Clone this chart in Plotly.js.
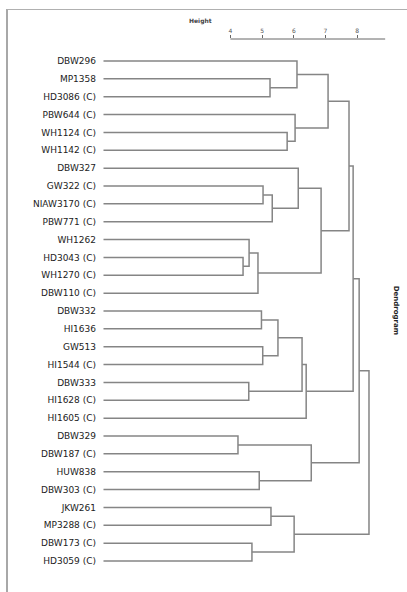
<!DOCTYPE html>
<html>
<head>
<meta charset="utf-8">
<script src="https://cdn.plot.ly/plotly-3.0.1.min.js"></script>
<style>
  html, body { margin: 0; padding: 0; background: #fff; }
  #wrap { position: relative; width: 407px; height: 592px; overflow: hidden; }
  #frame { position: absolute; left: 6px; top: 9px; width: 420px; height: 600px;
           border-left: 2px solid #a8a8a8; border-top: 1px solid #b0b0b0; }
  #plot { position: absolute; left: 0; top: 0; width: 407px; height: 592px; }
</style>
</head>
<body>
<div id="wrap">
  <div id="frame"></div>
  <div id="plot"></div>
</div>
<script>
// Genotypes, top to bottom
const leaves = [
  "DBW296", "MP1358", "HD3086 (C)", "PBW644 (C)", "WH1124 (C)", "WH1142 (C)",
  "DBW327", "GW322 (C)", "NIAW3170 (C)", "PBW771 (C)", "WH1262", "HD3043 (C)",
  "WH1270 (C)", "DBW110 (C)", "DBW332", "HI1636", "GW513", "HI1544 (C)",
  "DBW333", "HI1628 (C)", "HI1605 (C)", "DBW329", "DBW187 (C)", "HUW838",
  "DBW303 (C)", "JKW261", "MP3288 (C)", "DBW173 (C)", "HD3059 (C)"
];

// Merge table (hclust convention): negative = leaf number (1-based), positive = earlier row
const mergeLeft  = [-22, -12, -11, -19, -28,  3, -24, -15, -17, -8, -2, -26, 10,  8, -5, 12, -4, -1, -7, 14,  20,  1, 19, 18, 24, 25, 26, 27];
const mergeRight = [-23, -13,   2, -20, -29, -14, -25, -16, -18, -9, -3, -27, -10,  9, -6,  5, 15, 11, 13,  4, -21,  7,  6, 17, 23, 21, 22, 16];
const mergeHeight = [4.24, 4.40, 4.59, 4.58, 4.68, 4.87, 4.91, 4.98, 5.02, 5.03, 5.25, 5.28, 5.32, 5.50,
                     5.79, 6.01, 6.04, 6.10, 6.14, 6.26, 6.39, 6.55, 6.86, 7.08, 7.74, 7.87, 8.06, 8.37];

// Height axis
const heightTicks = [4, 5, 6, 7, 8];
const axisEnd = 8.88;

// Build the rectangular elbows of the dendrogram
const nodeY = [], nodeH = [];
function pos(ref) {
  if (ref < 0) return { y: -ref - 1, h: 0 };
  return { y: nodeY[ref - 1], h: nodeH[ref - 1] };
}
const xs = [], ys = [];
for (let i = 0; i < mergeHeight.length; i++) {
  const a = pos(mergeLeft[i]), b = pos(mergeRight[i]);
  const h = mergeHeight[i];
  xs.push(a.h, h, h, b.h, null);
  ys.push(a.y, a.y, b.y, b.y, null);
  nodeY.push((a.y + b.y) / 2);
  nodeH.push(h);
}

const n = leaves.length;
const trace = {
  type: "scatter", mode: "lines", x: xs, y: ys,
  line: { color: "#858585", width: 1.5 },
  hoverinfo: "skip", showlegend: false
};

const layout = {
  width: 407, height: 592,
  margin: { l: 100, r: 12, t: 39, b: 7 },
  paper_bgcolor: "rgba(0,0,0,0)", plot_bgcolor: "rgba(0,0,0,0)",
  font: { family: "DejaVu Sans, Liberation Sans, sans-serif", color: "#333" },
  xaxis: {
    side: "top", range: [-0.11, 9.19],
    tickvals: heightTicks, ticktext: heightTicks.map(String),
    ticks: "outside", ticklen: 3, tickwidth: 1, tickcolor: "#666",
    tickfont: { size: 6, color: "#555" },
    showgrid: false, zeroline: false, showline: false
  },
  yaxis: {
    range: [n - 1 + 1.344, -1.232],
    tickvals: leaves.map((_, i) => i), ticktext: leaves,
    ticks: "", ticklabelstandoff: 3,
    tickfont: { size: 9, color: "#222" },
    showgrid: false, zeroline: false, showline: false
  },
  shapes: [{
    type: "line", xref: "x", yref: "paper",
    x0: heightTicks[0], x1: axisEnd, y0: 1, y1: 1,
    line: { color: "#666", width: 1 }
  }],
  annotations: [
    { text: "Height", xref: "paper", yref: "paper", x: 0.339, y: 1.044,
      showarrow: false, font: { size: 6, color: "#444", weight: "bold" } },
    { text: "Dendrogram", xref: "paper", yref: "paper", x: 1.024, y: 0.504,
      showarrow: false, textangle: 90, font: { size: 7, color: "#222", weight: "bold" } }
  ]
};

Plotly.newPlot("plot", [trace], layout, { displayModeBar: false, staticPlot: true });
</script>
</body>
</html>
